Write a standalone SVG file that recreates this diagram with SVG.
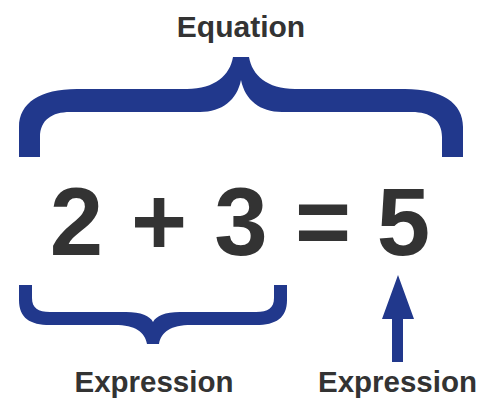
<svg xmlns="http://www.w3.org/2000/svg" width="491" height="399" viewBox="0 0 491 399">
<style>
.lbl{font-family:"Liberation Sans",Arial,sans-serif;font-weight:bold;fill:#333333;text-anchor:middle}
.num{font-family:"Liberation Sans",Arial,sans-serif;font-weight:bold;fill:#333333;text-anchor:middle;font-size:96px}
.blue{fill:#21388c}
</style>
<rect width="491" height="399" fill="#ffffff"/>
<g id="equation-label"><text class="lbl" x="241" y="37" font-size="30">Equation</text></g>
<g id="equation-brace"><path class="blue" d="M19,157 V127 C19,103 40,89 77,89 H187 C215,89 230,75 233,57 H249 C252,75 267,89 295,89 H405 C442,89 463,103 463,127 V157 H442 V137 C442,120 430,112 412,112 H282 C260,112 245,100 241,80 C237,100 222,112 200,112 H70 C52,112 40,120 40,137 V157 Z"/></g>
<g id="equation-text">
<text class="num" x="76.5" y="255">2</text>
<text class="num" x="159" y="255">+</text>
<text class="num" x="241" y="255">3</text>
<text class="num" x="323" y="255">=</text>
<text class="num" x="403.5" y="255">5</text>
</g>
<g id="expression-brace"><path class="blue" d="M19,285 V300 C19,318 30,325 50,325 H115 C135,325 145,332 147,344 H159 C161,332 171,325 191,325 H256 C276,325 287,318 287,300 V285 H274 V298 C274,308 268,312 256,312 H180 C165,312 156,316 153,322 C150,316 141,312 126,312 H50 C38,312 32,308 32,298 V285 Z"/></g>
<g id="connectors"><path class="blue" d="M392,362 V319 H382 L398,275 L414,319 H403 V362 Z"/></g>
<g id="expression-left"><text class="lbl" x="154" y="392" font-size="29.5">Expression</text></g>
<g id="expression-right"><text class="lbl" x="397.5" y="392" font-size="29.5">Expression</text></g>
</svg>
